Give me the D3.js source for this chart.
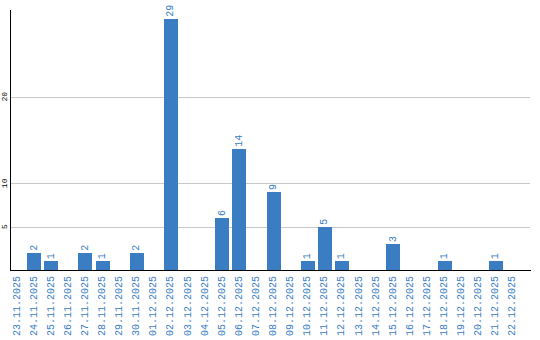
<!DOCTYPE html>
<head>
    <meta charset="utf-8">
    <title>Daily counts</title>
<style>
    body {
        margin: 0;
        background: #fff;
        font-family: "Liberation Mono", monospace;
    }

    .day {
        font-size: 10px;
        fill: #3a7dc2;
    }

    .value {
        font-size: 10px;
        fill: #3a7dc2;
    }

    .tick-label {
        font-size: 8px;
        fill: #000;
    }
</style>
</head>
<body>
<script src="https://d3js.org/d3.v7.min.js"></script>
<script>

    const DAYS = ["23.11.2025", "24.11.2025", "25.11.2025", "26.11.2025", "27.11.2025",
        "28.11.2025", "29.11.2025", "30.11.2025", "01.12.2025", "02.12.2025",
        "03.12.2025", "04.12.2025", "05.12.2025", "06.12.2025", "07.12.2025",
        "08.12.2025", "09.12.2025", "10.12.2025", "11.12.2025", "12.12.2025",
        "13.12.2025", "14.12.2025", "15.12.2025", "16.12.2025", "17.12.2025",
        "18.12.2025", "19.12.2025", "20.12.2025", "21.12.2025", "22.12.2025"];

    const COUNTS = [0, 2, 1, 0, 2, 1, 0, 2, 0, 29,
        0, 0, 6, 14, 0, 9, 0, 1, 5, 1,
        0, 0, 3, 0, 0, 1, 0, 0, 1, 0];

    const Y_TICKS = [5, 10, 20];

    const margin = {top: 10, right: 10, bottom: 70, left: 10},
        width = 540 - margin.left - margin.right,
        height = 340 - margin.top - margin.bottom;

    const svg = d3.select("body").append("svg")
        .attr("width", 540)
        .attr("height", 340)
        .append("g")
        .attr("transform", `translate(${margin.left},${margin.top})`);

    const step = 17;
    const x = d3.scaleBand().domain(DAYS).range([0, step * DAYS.length]).paddingInner(3 / 17).paddingOuter(0).align(0);
    const y = d3.scaleLinear().domain([0, 30]).range([height, 0]);

    // grid
    svg.selectAll('.grid')
        .data(Y_TICKS)
        .join('line')
        .attr('class', 'grid')
        .attr('shape-rendering', 'crispEdges')
        .attr('x1', 1)
        .attr('x2', width)
        .attr('y1', d => Math.round(y(d)) + 0.5)
        .attr('y2', d => Math.round(y(d)) + 0.5)
        .attr('stroke', '#c8c8c8');

    svg.selectAll('.tick-label')
        .data(Y_TICKS)
        .join('text')
        .attr('class', 'tick-label')
        .attr('text-anchor', 'middle')
        .attr('transform', d => `translate(-3,${y(d)}) rotate(-90)`)
        .text(d => d);

    const days = DAYS.map((d, i) => ({day: d, value: COUNTS[i]}));

    svg.selectAll('.bar')
        .data(days.filter(d => d.value > 0))
        .join('rect')
        .attr('class', 'bar')
        .attr('shape-rendering', 'crispEdges')
        .attr('fill', '#3b7dc3')
        .attr('x', d => x(d.day))
        .attr('y', d => y(d.value))
        .attr('width', x.bandwidth())
        .attr('height', d => height - y(d.value));

    svg.selectAll('.value')
        .data(days.filter(d => d.value > 0))
        .join('text')
        .attr('class', 'value')
        .attr('text-anchor', 'start')
        .attr('dominant-baseline', 'central')
        .attr('transform', d => `translate(${x(d.day) + x.bandwidth() / 2},${y(d.value) - 2}) rotate(-90)`)
        .text(d => d.value);

    svg.selectAll('.day')
        .data(DAYS)
        .join('text')
        .attr('class', 'day')
        .attr('text-anchor', 'end')
        .attr('dominant-baseline', 'central')
        .attr('transform', d => `translate(${x(d) + x.bandwidth() / 2},${height + 6}) rotate(-90)`)
        .text(d => d);

    // axes
    svg.append('line')
        .attr('shape-rendering', 'crispEdges')
        .attr('x1', 0.5).attr('x2', 0.5)
        .attr('y1', 0).attr('y2', height)
        .attr('stroke', '#000');

    svg.append('line')
        .attr('shape-rendering', 'crispEdges')
        .attr('x1', 0).attr('x2', width + 1)
        .attr('y1', height + 0.5).attr('y2', height + 0.5)
        .attr('stroke', '#000');
</script>
